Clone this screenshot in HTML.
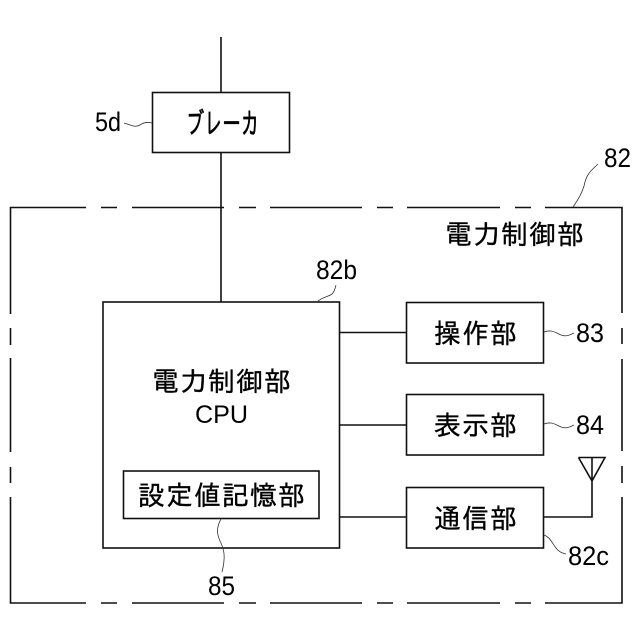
<!DOCTYPE html>
<html><head><meta charset="utf-8"><style>
html,body{margin:0;padding:0;background:#fff;width:640px;height:640px;overflow:hidden}
svg{display:block}
text{fill:#000}
.j{font-family:"IPAGothic","Noto Sans CJK JP",sans-serif;font-size:27px;stroke:#000;stroke-width:.35}
.l{font-family:"Liberation Sans",sans-serif;font-size:27px}
</style></head><body>
<svg width="640" height="640" viewBox="0 0 640 640" xmlns="http://www.w3.org/2000/svg">
<g fill="none" stroke="#111" stroke-width="1.6">
<path d="M10.5 314V207.5H86M101 207.5H117M132 207.5H224M239 207.5H256M270 207.5H362M377 207.5H393M407 207.5H500M515 207.5H531M545 207.5H622V313"/>
<path d="M622 328V344M622 359V451M622 466V483M622 497V603H545M531 603H515M500 603H407M393 603H377M362 603H270M256 603H239M224 603H132M117 603H101M86 603H10.5V497M10.5 483V467M10.5 452V358M10.5 345V328"/>
<path d="M221 37V92M221 152V302"/>
<rect x="152.5" y="92.5" width="137" height="60"/>
<rect x="103" y="302" width="236.5" height="246"/>
<rect x="123.5" y="471" width="195.5" height="47.5"/>
<rect x="406.5" y="302.5" width="137" height="60.5"/>
<rect x="406.5" y="394.5" width="137" height="60.5"/>
<rect x="406.5" y="487.5" width="137" height="60.5"/>
<path d="M339.5 332.5H406.5M339.5 425H406.5M339.5 517H406.5M543.5 517H592V457.5M578.5 457.5H605L592 481L578.5 457.5"/>
</g>
<g fill="none" stroke="#333" stroke-width=".8">
<path d="M124 123C131 125 135 128 140 125C144 122 148 122 152 123"/>
<path d="M544 332C552 329 556 333 561 335C566 337 570 335 574 333"/>
<path d="M544 424C552 421 556 425 561 427C566 429 570 427 574 425"/>
<path d="M544 535C550 537 552 543 556 548C559 552 562 553 566 554"/>
<path d="M221 519C216 528 217 534 220 541C224 549 226 556 222 572"/>
<path d="M317 302C322 297 328 297 332 294C335 291 335 288 336 285"/>
<path d="M573 207C578 200 582 193 584 186C586 176 589 172 598 164"/>
</g>
<text class="j" x="186" y="134" textLength="73" lengthAdjust="spacingAndGlyphs" style="font-size:30px;stroke-width:.6">ブレーカ</text>
<text class="j" x="445" y="244" textLength="139" lengthAdjust="spacing">電力制御部</text>
<text class="j" x="152" y="391" textLength="139" lengthAdjust="spacing">電力制御部</text>
<text class="j" x="138" y="505" textLength="167" lengthAdjust="spacing">設定値記憶部</text>
<text class="j" x="434" y="343" textLength="83" lengthAdjust="spacing">操作部</text>
<text class="j" x="434" y="435" textLength="83" lengthAdjust="spacing">表示部</text>
<text class="j" x="434" y="528" textLength="83" lengthAdjust="spacing">通信部</text>
<text class="l" x="195" y="423" textLength="53" lengthAdjust="spacingAndGlyphs" style="font-size:25px">CPU</text>
<text class="l" x="95" y="131" textLength="26" lengthAdjust="spacingAndGlyphs">5d</text>
<text class="l" x="604" y="167" textLength="27" lengthAdjust="spacingAndGlyphs">82</text>
<text class="l" x="316" y="279" textLength="41" lengthAdjust="spacingAndGlyphs">82b</text>
<text class="l" x="576" y="342" textLength="28" lengthAdjust="spacingAndGlyphs">83</text>
<text class="l" x="576" y="434" textLength="28" lengthAdjust="spacingAndGlyphs">84</text>
<text class="l" x="568" y="565" textLength="41" lengthAdjust="spacingAndGlyphs">82c</text>
<text class="l" x="208" y="595" textLength="27" lengthAdjust="spacingAndGlyphs">85</text>
</svg>
</body></html>
